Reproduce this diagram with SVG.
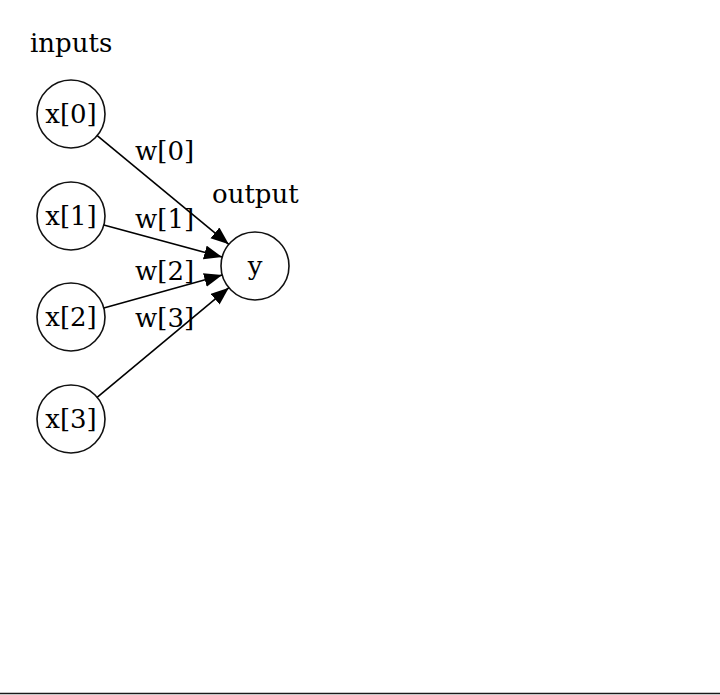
<svg xmlns="http://www.w3.org/2000/svg" width="720" height="695" viewBox="0 0 720 695">
<style>
text{font-family:"DejaVu Serif",serif;font-size:26px;fill:#000}
.n circle{fill:none;stroke:#111;stroke-width:1.6}
.e line{stroke:#000;stroke-width:1.6}
</style>
<defs><marker id="a" markerUnits="userSpaceOnUse" markerWidth="20" markerHeight="16" refX="18" refY="7" orient="auto"><path d="M0,0L18,7L0,14Z" fill="#000"/></marker></defs>
<rect width="720" height="695" fill="#fff"/>
<text x="30" y="52">inputs</text>
<text x="212" y="203">output</text>
<g id="x0" class="n"><circle cx="71" cy="114" r="34"/><text x="71" y="123" text-anchor="middle">x[0]</text></g>
<g id="x1" class="n"><circle cx="71" cy="216" r="34"/><text x="71" y="225" text-anchor="middle">x[1]</text></g>
<g id="x2" class="n"><circle cx="71" cy="317" r="34"/><text x="71" y="326" text-anchor="middle">x[2]</text></g>
<g id="x3" class="n"><circle cx="71" cy="419" r="34"/><text x="71" y="428" text-anchor="middle">x[3]</text></g>
<g id="y" class="n"><circle cx="255" cy="266" r="34"/><text x="255" y="275" text-anchor="middle">y</text></g>
<g id="edges" class="e">
<line x1="97.2" y1="135.7" x2="228.8" y2="244.3" marker-end="url(#a)"/>
<line x1="103.8" y1="224.9" x2="222.2" y2="257.1" marker-end="url(#a)"/>
<line x1="103.8" y1="307.9" x2="222.2" y2="275.1" marker-end="url(#a)"/>
<line x1="97.1" y1="397.3" x2="228.9" y2="287.7" marker-end="url(#a)"/>
<text x="135" y="160">w[0]</text>
<text x="135" y="228">w[1]</text>
<text x="135" y="280">w[2]</text>
<text x="135" y="327">w[3]</text>
</g>
<line x1="0" y1="693.5" x2="720" y2="693.5" stroke="#1a1a1a" stroke-width="1.5"/>
</svg>
